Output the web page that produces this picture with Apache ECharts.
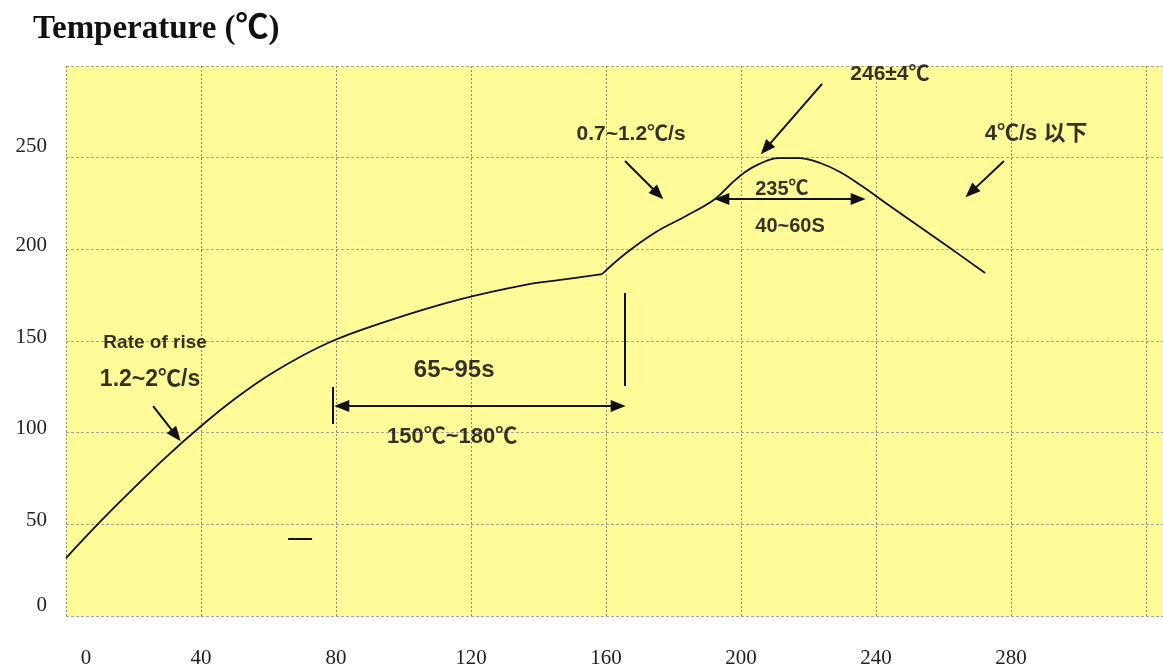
<!DOCTYPE html>
<html>
<head>
<meta charset="utf-8">
<script src="https://cdn.jsdelivr.net/npm/echarts@6/dist/echarts.min.js"></script>
<style>
html,body{margin:0;padding:0;background:#fff;}
#chart{width:1163px;height:670px;}
</style>
</head>
<body>
<div id="chart"></div>
<script>
// ---- data (time in s, temperature in ℃) ----
const rampTime   = [0, 10.07, 19.85, 29.63, 39.7, 49.2, 61.6, 77.6, 94.5, 116.1, 137.5, 146.4, 158.8];
const rampTemp   = [31.6, 51.3, 69.3, 86.7, 103.1, 117.3, 133.1, 148.9, 160.4, 172.4, 181.1, 183.3, 186.5];
const reflowTime = [158.8, 165.6, 174.8, 183.7, 192.3, 197.3, 201.2, 205.3, 211.0, 217.2, 223.4, 229.3, 235.8, 244.1, 253.0, 261.9, 272.3];
const reflowTemp = [186.5, 197.5, 209.5, 218.2, 227.5, 236.2, 242.2, 246.5, 249.8, 249.8, 247.1, 242.2, 234.5, 223.6, 212.2, 200.7, 187.1];

const xTickLabels = ['0', '40', '80', '120', '160', '200', '240', '280'];
const yTickLabels = ['0', '50', '100', '150', '200', '250'];

// annotation arrows: [x1, y1, x2, y2, type]
const arrows = [
  [25.8, 114.5, 32.6, 98.5, 'single'],
  [165.6, 248.2, 175.4, 230.2, 'single'],
  [224.0, 290.2, 207.3, 254.9, 'single'],
  [277.9, 248.2, 268.1, 231.2, 'single'],
  [81.7, 114.5, 163.6, 114.5, 'double'],
  [194.3, 227.5, 234.7, 227.5, 'double'],
  [79.1, 124.9, 79.1, 104.7, 'bar'],
  [165.6, 176.2, 165.6, 125.5, 'bar'],
  [65.8, 42.0, 72.9, 42.0, 'bar']
];
// annotation texts: [x, y, text, size]
const notes = [
  [26.4, 148.9, 'Rate of rise', 19],
  [24.9, 128.7, '1.2~2℃/s', 23],
  [115.0, 134.2, '65~95s', 24],
  [114.4, 97.6, '150℃~180℃', 22],
  [167.4, 262.9, '0.7~1.2℃/s', 21],
  [244.1, 295.6, '246±4℃', 21],
  [212.1, 232.4, '235℃', 20],
  [214.5, 212.2, '40~60S', 20],
  [287.4, 262.9, '4℃/s 以下', 22]
];

const zip = (a, b) => a.map((v, i) => [v, b[i]]);

const lineData = arrows.map(a => {
  const sym = a[4] === 'single' ? ['none', 'triangle'] : a[4] === 'double' ? ['triangle', 'triangle'] : ['none', 'none'];
  return [
    { coord: [a[0], a[1]], symbol: sym[0] },
    { coord: [a[2], a[3]], symbol: sym[1] }
  ];
});

const tickFont = { fontFamily: 'Liberation Serif, serif', fontSize: 21, color: '#222' };

const chart = echarts.init(document.getElementById('chart'), null, { renderer: 'canvas' });
chart.setOption({
  animation: false,
  backgroundColor: '#ffffff',
  title: {
    text: 'Temperature (℃)',
    left: 28, top: 8,
    textStyle: { fontFamily: 'Liberation Serif, "Noto Sans CJK SC", serif', fontSize: 33, fontWeight: 'bold', color: '#111' }
  },
  grid: {
    left: 66, right: 0, top: 66, bottom: 54,
    show: true, backgroundColor: '#fffb98', borderWidth: 0
  },
  xAxis: {
    type: 'value', min: 0, max: 325, interval: 40,
    axisLine: { show: false }, axisTick: { show: false },
    axisLabel: Object.assign({
      margin: 32, showMaxLabel: false,
      formatter: v => {
        const t = xTickLabels[Math.round(v / 40)] ?? '';
        return v === 0 ? '{z|' + t + '}' : t;
      },
      rich: { z: Object.assign({ padding: [0, 0, 0, 40] }, tickFont) }
    }, tickFont),
    splitLine: { show: true, lineStyle: { color: '#8d8a70', type: [2, 2], width: 1 } }
  },
  yAxis: {
    type: 'value', min: 0, max: 300, interval: 50,
    axisLine: { show: false }, axisTick: { show: false },
    axisLabel: Object.assign({
      margin: 19,
      formatter: v => {
        const t = yTickLabels[Math.round(v / 50)] ?? '';
        return t ? (v === 0 || v === 250 ? '{h|' + t + '}' : '{a|' + t + '}') : '';
      },
      rich: {
        a: Object.assign({ padding: [0, 0, 8, 0] }, tickFont),
        h: Object.assign({ padding: [0, 0, 22, 0] }, tickFont)
      }
    }, tickFont),
    splitLine: { show: true, lineStyle: { color: '#a8a58a', type: [3, 2], width: 1 } }
  },
  series: [
    {
      type: 'line', data: zip(rampTime, rampTemp), smooth: 0.4, showSymbol: false,
      lineStyle: { color: '#111', width: 1.8 }, z: 5,
      markLine: {
        silent: true, symbolSize: [12, 15],
        lineStyle: { color: '#111', width: 2, type: 'solid' },
        itemStyle: { color: '#111' },
        label: { show: false },
        data: lineData
      }
    },
    {
      type: 'line', data: zip(reflowTime, reflowTemp), smooth: 0.4, showSymbol: false,
      lineStyle: { color: '#111', width: 1.8 }, z: 5
    },
    {
      type: 'scatter', symbolSize: 1, itemStyle: { color: 'rgba(0,0,0,0)' }, z: 10,
      data: notes.map(n => ({
        value: [n[0], n[1]], name: n[2],
        label: { fontSize: n[3] }
      })),
      label: {
        show: true, position: 'inside', formatter: p => p.name,
        fontFamily: 'Liberation Sans, Arial, "Noto Sans CJK SC", sans-serif',
        fontWeight: 'bold', color: '#000'
      }
    }
  ]
});
</script>
</body>
</html>
